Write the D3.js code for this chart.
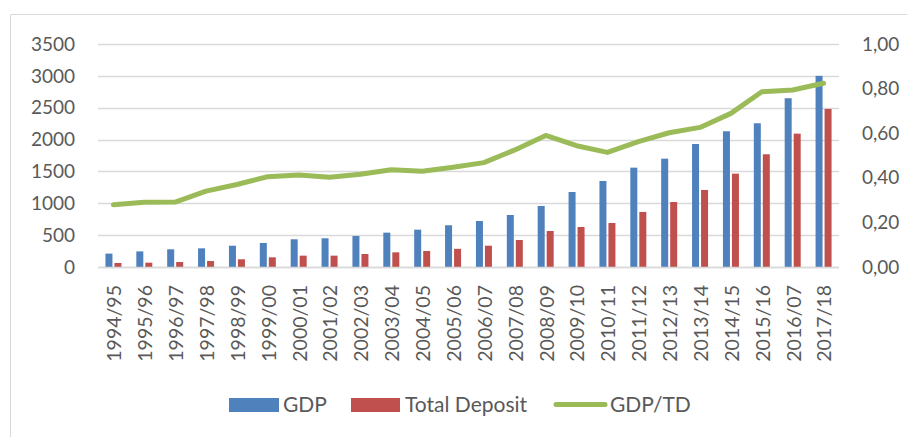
<!DOCTYPE html>
<html><head><meta charset="utf-8">
<script src="https://cdn.jsdelivr.net/npm/d3@7"></script>
<style>body{margin:0;background:#fff}svg{display:block}text{font-family:Lato,"Open Sans",sans-serif;fill:#595959}</style>
</head><body><svg id="c" width="907" height="437"></svg>
<script>
const categories = ["1994/95","1995/96","1996/97","1997/98","1998/99","1999/00","2000/01","2001/02","2002/03","2003/04","2004/05","2005/06","2006/07","2007/08","2008/09","2009/10","2010/11","2011/12","2012/13","2013/14","2014/15","2015/16","2016/07","2017/18"];
const gdp = [210,245,278,293,334,377,435,451,487,539,586,655,722,816,958,1177,1350,1559,1700,1931,2130,2256,2649,3000];
const totalDeposit = [63,68,78,94,121,152,178,178,204,230,251,285,334,424,565,628,691,864,1020,1209,1465,1769,2093,2481];
const gdpTd = [0.279,0.29,0.291,0.34,0.37,0.405,0.413,0.402,0.416,0.436,0.429,0.447,0.468,0.525,0.59,0.544,0.514,0.562,0.602,0.626,0.689,0.786,0.794,0.824];
const leftTicks = [0,500,1000,1500,2000,2500,3000,3500];
const rightTicks = [0,0.2,0.4,0.6,0.8,1.0];
const seriesNames = ["GDP","Total Deposit","GDP/TD"];
const colors = ["#4F81BD","#C0504D","#9BBB59"];

const svg = d3.select("#c");
const L = 98, R = 839, T = 44, B = 267;
// frame
svg.append("path").attr("d","M10.5,437V14.5H907").attr("fill","none").attr("stroke","#d9d9d9").attr("stroke-width",1);

const x = d3.scaleBand().domain(categories).range([L,R]);
const yL = d3.scaleLinear().domain([0,3500]).range([B,T]);
const yR = d3.scaleLinear().domain([0,1]).range([B,T]);

// gridlines
svg.append("g").selectAll("line").data(leftTicks).join("line")
  .attr("x1",L).attr("x2",R).attr("y1",d=>Math.round(yL(d))+0.5).attr("y2",d=>Math.round(yL(d))+0.5)
  .attr("stroke","#d9d9d9").attr("stroke-width",1.3);

// axis labels
const fmtR = d => d.toFixed(2).replace(".",",");
svg.append("g").selectAll("text").data(leftTicks).join("text")
  .attr("x",75).attr("y",d=>yL(d)).attr("dy","0.35em").attr("text-anchor","end")
  .style("font-size","19px").text(d=>d);
svg.append("g").selectAll("text").data(rightTicks).join("text")
  .attr("x",862).attr("y",d=>yR(d)).attr("dy","0.35em").attr("text-anchor","start")
  .style("font-size","19px").text(fmtR);

// bars
const bw = 7, gap = 2;
const g = svg.append("g");
g.selectAll("rect.g").data(categories).join("rect").attr("class","g")
  .attr("x",d=>x(d)+x.bandwidth()/2-bw-gap/2).attr("width",bw)
  .attr("y",(d,i)=>yL(gdp[i])).attr("height",(d,i)=>B-yL(gdp[i])).attr("fill",colors[0]);
g.selectAll("rect.t").data(categories).join("rect").attr("class","t")
  .attr("x",d=>x(d)+x.bandwidth()/2+gap/2).attr("width",bw)
  .attr("y",(d,i)=>yL(totalDeposit[i])).attr("height",(d,i)=>B-yL(totalDeposit[i])).attr("fill",colors[1]);

// axis line
svg.append("line").attr("x1",L).attr("x2",R).attr("y1",B+0.5).attr("y2",B+0.5).attr("stroke","#d9d9d9").attr("stroke-width",1.3);

// ratio line
const line = d3.line().x((d,i)=>x(categories[i])+x.bandwidth()/2).y(d=>yR(d));
svg.append("path").datum(gdpTd).attr("d",line).attr("fill","none").attr("stroke",colors[2])
  .attr("stroke-width",5).attr("stroke-linejoin","round").attr("stroke-linecap","round");

// x labels
svg.append("g").selectAll("text").data(categories).join("text")
  .attr("transform",d=>`translate(${x(d)+x.bandwidth()/2+1},${B+18}) rotate(-90)`)
  .attr("text-anchor","end").attr("dy","0.35em").style("font-size","19.5px").text(d=>d);

// legend
const lg = svg.append("g");
lg.append("rect").attr("x",229).attr("y",398).attr("width",50).attr("height",14).attr("fill",colors[0]);
lg.append("text").attr("x",283).attr("y",412).style("font-size","21px").text(seriesNames[0]);
lg.append("rect").attr("x",351).attr("y",398).attr("width",49).attr("height",14).attr("fill",colors[1]);
lg.append("text").attr("x",405).attr("y",412).style("font-size","21px").text(seriesNames[1]);
lg.append("line").attr("x1",556).attr("x2",605).attr("y1",404.5).attr("y2",404.5).attr("stroke",colors[2]).attr("stroke-width",5).attr("stroke-linecap","round");
lg.append("text").attr("x",610).attr("y",412).style("font-size","21px").text(seriesNames[2]);
</script></body></html>
